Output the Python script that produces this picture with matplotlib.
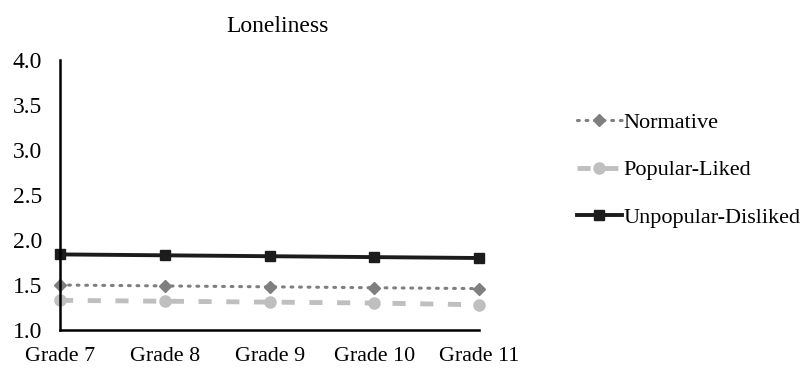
import matplotlib
matplotlib.use("Agg")
import matplotlib.pyplot as plt

grades = ["Grade 7", "Grade 8", "Grade 9", "Grade 10", "Grade 11"]
normative = [1.50, 1.49, 1.48, 1.47, 1.46]
popular = [1.33, 1.32, 1.31, 1.30, 1.28]
unpopular = [1.84, 1.83, 1.82, 1.81, 1.80]
yticks = [1.0, 1.5, 2.0, 2.5, 3.0, 3.5, 4.0]

plt.rcParams['font.family'] = ['Liberation Serif', 'DejaVu Serif']

fig = plt.figure(figsize=(8.11, 3.70), dpi=100)
ax = fig.add_axes([0.074, 0.108, 0.517, 0.73])
x = list(range(len(grades)))

ax.plot(x, normative, color='#7f7f7f', linestyle=(0, (0.6, 2.2)), linewidth=2.2,
        dash_capstyle='round', marker='D', markersize=6, label='Normative',
        clip_on=False)
ax.plot(x, popular, color='#bfbfbf', linestyle=(0, (2.7, 3.0)), linewidth=3.5,
        marker='o', markersize=8, label='Popular-Liked', clip_on=False)
ax.plot(x, unpopular, color='#1c1c1c', linestyle='-', linewidth=2.8,
        marker='s', markersize=7.5, label='Unpopular-Disliked', clip_on=False)

ax.set_xlim(0, 4)
ax.set_ylim(1.0, 4.0)
ax.set_xticks(x)
ax.set_xticklabels(grades, fontsize=15.8)
ax.set_yticks(yticks)
ax.set_yticklabels([f"{v:.1f}" for v in yticks], fontsize=17)
ax.tick_params(axis='x', length=0, pad=12)
ax.tick_params(axis='y', length=0, pad=13)
ax.spines['top'].set_visible(False)
ax.spines['right'].set_visible(False)
ax.spines['left'].set_linewidth(1.8)
ax.spines['bottom'].set_linewidth(1.8)
ax.set_title("Loneliness", fontsize=17, pad=20, x=0.52)

fig.legend(loc='center left', bbox_to_anchor=(0.687, 0.54), frameon=False,
           fontsize=16, handlelength=2.0, handletextpad=0.1, labelspacing=1.2)

fig.savefig("out.png", dpi=100)
